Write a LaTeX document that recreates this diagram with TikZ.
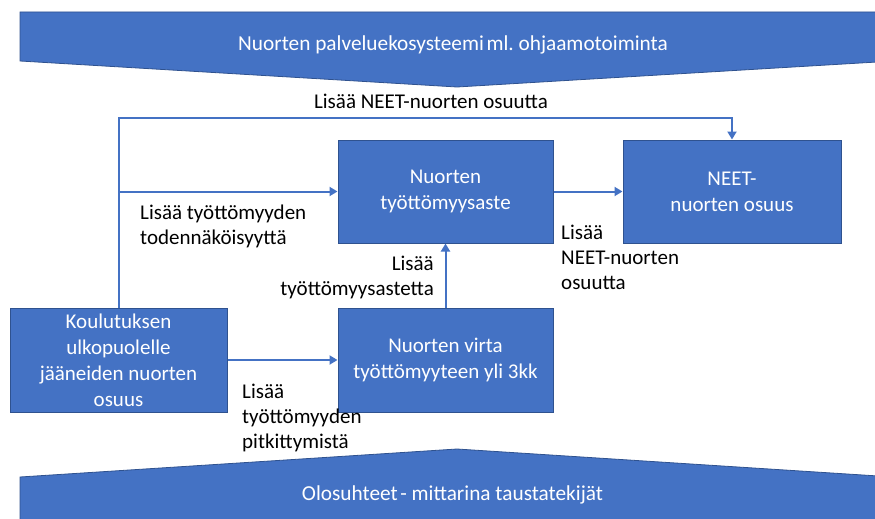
\documentclass[tikz,border=0pt]{standalone}
\usepackage{fontspec}
\setmainfont{Carlito}
\usetikzlibrary{arrows.meta}
\definecolor{officeblue}{HTML}{4472C4}
\definecolor{edgeblue}{HTML}{2F528F}
\begin{document}
\begin{tikzpicture}[x=1pt,y=-1pt,
  box/.style={draw=edgeblue, line width=1pt, fill=officeblue, text=white,
    align=center, inner sep=0pt, font=\fontsize{21}{26}\selectfont},
  lbl/.style={inner sep=0pt, font=\fontsize{21}{25}\selectfont},
  conn/.style={draw=officeblue, line width=2pt, -{Triangle[length=8pt,width=9pt]}},
  banner/.style={fill=officeblue, draw=edgeblue, line width=0.8pt},
  bannertext/.style={text=white, inner sep=0pt, font=\fontsize{21.3}{25}\selectfont}]
\useasboundingbox (0,0) rectangle (875,519);
\clip (0,0) rectangle (875,519);

% top and bottom chevron banners
\path[banner] (20,12) -- (894,12) -- (894,61) -- (457,87) -- (20,61) -- cycle;
\path[banner] (20,477) -- (457,449) -- (894,477) -- (894,540) -- (20,540) -- cycle;
\node[bannertext] (eco) at (453,45) {Nuorten palveluekosysteemi\hspace{0.12em}ml.\ ohjaamotoiminta};
\node[bannertext] (bg) at (452.5,495) {Olosuhteet\hspace{0.12em}- mittarina taustatekijät};

% boxes
\node[box, minimum width=215pt, minimum height=103pt] (tyo) at (445.5,191.5) {Nuorten\\työttömyysaste};
\node[box, minimum width=218pt, minimum height=103pt] (neet) at (732,191.5) {NEET-\\nuorten osuus};
\node[box, minimum width=217pt, minimum height=104pt] (kou) at (118.5,360) {Koulutuksen\\ulkopuolelle\\jääneiden nuorten\\osuus};
\node[box, minimum width=215pt, minimum height=104pt] (virta) at (445.5,360) {Nuorten virta\\työttömyyteen yli 3kk};

% connectors
\coordinate (tl) at (118.5,118);
\coordinate (tr) at (732,118);
\draw[conn] (kou.north) -- (tl) -- (tr) -- (neet.north);
\draw[conn] (kou.north |- tyo.west) -- (tyo.west);
\draw[conn] (kou.east) -- (virta.west);
\draw[conn] (virta.north) -- (tyo.south);
\draw[conn] (tyo.east) -- (neet.west);

% connector labels
\node[lbl] (l1) at (431,101) {Lisää NEET-nuorten osuutta};
\node[lbl, align=left, anchor=west] (l2) at (140,226) {Lisää työttömyyden\\todennäköisyyttä};
\node[lbl, align=right, anchor=east] (l3) at (434,277) {Lisää\\työttömyysastetta};
\node[lbl, align=left, anchor=west] (l4) at (561,257) {Lisää\\NEET-nuorten\\osuutta};
\node[lbl, align=left, anchor=west] (l5) at (242,418) {Lisää\\työttömyyden\\pitkittymistä};
\end{tikzpicture}
\end{document}
